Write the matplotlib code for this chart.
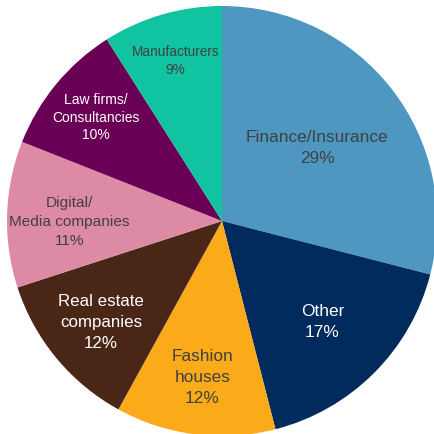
import numpy as np
import matplotlib.pyplot as plt

plt.rcParams['font.family'] = ['Liberation Sans', 'DejaVu Sans']

sectors = ["Finance/Insurance", "Other", "Fashion\nhouses", "Real estate\ncompanies",
           "Digital/\nMedia companies", "Law firms/\nConsultancies", "Manufacturers"]
shares = [29, 17, 12, 12, 11, 10, 9]

colours = ["#4d97c1", "#002b5c", "#fbaa19", "#4a2617", "#dd8aa4", "#6a0056", "#10c3a1"]
text_colours = ["#404040", "white", "#404040", "white", "#404040", "white", "#404040"]
# label placement: fraction of radius and small turn (degrees) from the slice middle
label_radius = [0.56, 0.66, 0.73, 0.73, 0.71, 0.76, 0.78]
label_turn = [0, 0, 0, 0, 1.8, 0, 0]
font_sizes = [12.4, 12.4, 12.4, 12.2, 11.1, 10, 9.8]
line_gaps = [1.5, 1.5, 1.5, 1.5, 1.46, 1.31, 1.29]

W, H = 434, 435
cx, cy, R = 222, 222, 215

fig = plt.figure(figsize=(W / 100, H / 100), dpi=100)
ax = fig.add_axes([0, 0, 1, 1])

wedges, _ = ax.pie(shares, colors=colours, startangle=90, counterclock=False,
                   radius=1, wedgeprops=dict(linewidth=0))

for i, w in enumerate(wedges):
    mid = np.deg2rad((w.theta1 + w.theta2) / 2 + label_turn[i])
    r = label_radius[i]
    ax.text(r * np.cos(mid), r * np.sin(mid), f"{sectors[i]}\n{shares[i]}%",
            ha="center", va="center", color=text_colours[i],
            fontsize=font_sizes[i], linespacing=line_gaps[i])

ax.set_xlim(-cx / R, (W - cx) / R)
ax.set_ylim(-(H - cy) / R, cy / R)
ax.set_aspect("auto")
ax.axis("off")

fig.savefig("out.png", dpi=100)
